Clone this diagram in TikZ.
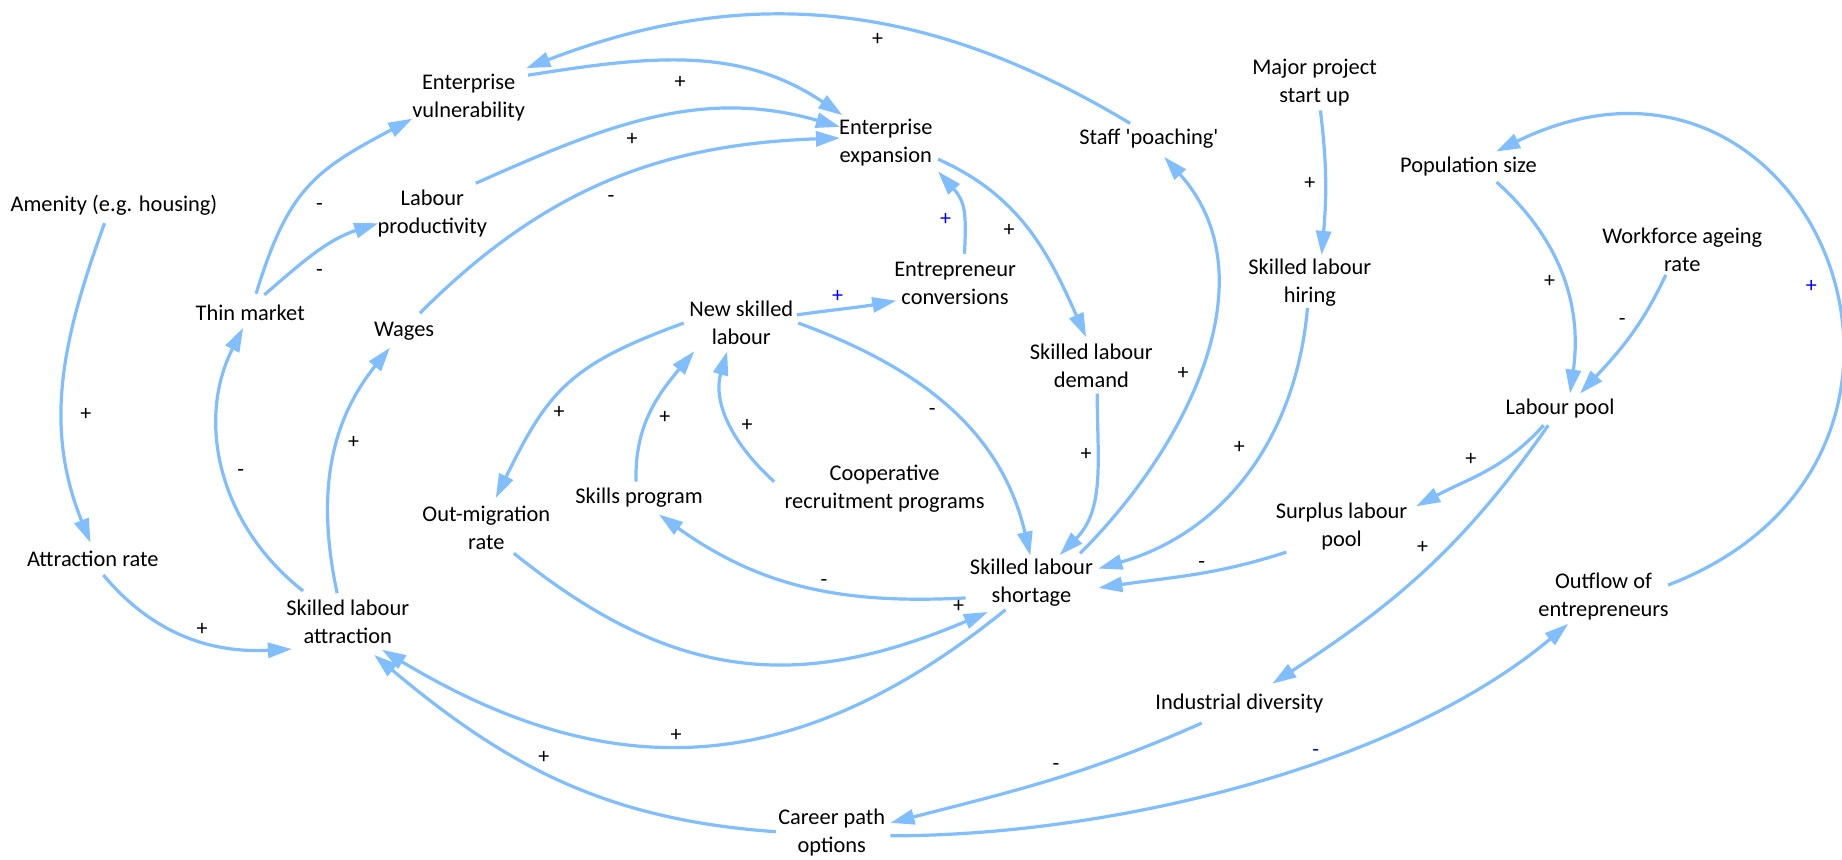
\documentclass[tikz,border=0pt]{standalone}
\usepackage{fontspec}
\setmainfont{Carlito}
\usetikzlibrary{arrows.meta}
\definecolor{linkblue}{RGB}{128,190,255}
\definecolor{signblue}{RGB}{0,0,255}
\begin{document}
\begin{tikzpicture}[x=0.5874pt,y=-0.5874pt,
  var/.style={font=\fontsize{11.2}{14}\selectfont, align=center, inner sep=0pt},
  pol/.style={font=\fontsize{11}{13}\selectfont, inner sep=0pt},
  polblue/.style={pol, text=signblue},
  link/.style={draw=linkblue, line width=1.6pt, -{Triangle[length=12pt,width=7.5pt]}},
]
\fill[white] (0,0) rectangle (1568,732);
\useasboundingbox (0,0) rectangle (1568,732);

% variables
\node[var] (ev) at (399,83) {Enterprise\\vulnerability};
\node[var] (am) at (97,175) {Amenity (e.g. housing)};
\node[var] (lp) at (368,182) {Labour\\productivity};
\node[var] (tm) at (213,266) {Thin market};
\node[var] (wa) at (344,282) {Wages};
\node[var] (ee) at (754,121) {Enterprise\\expansion};
\node[var] (sp) at (978,118) {Staff \textquotesingle poaching\textquotesingle};
\node[var] (ec) at (813,241) {Entrepreneur\\conversions};
\node[var] (ns) at (631,275) {New skilled\\labour};
\node[var] (sd) at (929,311) {Skilled labour\\demand};
\node[var] (mp) at (1119,70) {Major project\\start up};
\node[var] (ps) at (1250,142) {Population size};
\node[var] (wr) at (1432,213) {Workforce ageing\\rate};
\node[var] (sh) at (1115,241) {Skilled labour\\hiring};
\node[var] (lpool) at (1328,348) {Labour pool};
\node[var] (ar) at (79,476) {Attraction rate};
\node[var] (sa) at (296,529) {Skilled labour\\attraction};
\node[var] (om) at (414,449) {Out-migration\\rate};
\node[var] (sk) at (544,424) {Skills program};
\node[var] (co) at (753,416) {Cooperative\\recruitment programs};
\node[var] (ss) at (878,496) {Skilled labour\\shortage};
\node[var] (su) at (1142,448) {Surplus labour\\pool};
\node[var] (of) at (1365,508) {Outflow of\\entrepreneurs};
\node[var] (id) at (1055,599) {Industrial diversity};
\node[var] (cp) at (708,709) {Career path\\options};

% causal links
\draw[link] ([shift={(-16,-13)}]sp.center) to[out=149,in=21] ([shift={(49,-25)}]ev.center);
\draw[link] ([shift={(50.5,-19)}]ev.center) to[out=9,in=146] ([shift={(-37,-23)}]ee.center);
\draw[link] ([shift={(37,-26)}]lp.center) to[out=24,in=164] ([shift={(-39,-13)}]ee.center);
\draw[link] ([shift={(13.5,-15.5)}]wa.center) to[out=45,in=182] ([shift={(-39,-3.5)}]ee.center);
\draw[link] ([shift={(5,-16)}]tm.center) to[out=73,in=208,looseness=1.2] ([shift={(-48,18)}]ev.center);
\draw[link] ([shift={(12,-15)}]tm.center) to[out=41,in=198] ([shift={(-46,8)}]lp.center);
\draw[link] ([shift={(-8,15)}]am.center) to[out=250,in=112] ([shift={(-2,-14)}]ar.center);
\draw[link] ([shift={(9,13.5)}]ar.center) to[out=310,in=183] ([shift={(-47.5,23.5)}]sa.center);
\draw[link] ([shift={(-38,-26)}]sa.center) to[out=142,in=243] ([shift={(-6,13)}]tm.center);
\draw[link] ([shift={(-9,-24)}]sa.center) to[out=102,in=231] ([shift={(-12,14)}]wa.center);
\draw[link] ([shift={(44.5,14.5)}]ee.center) to[out=336,in=114] ([shift={(-4.5,-24)}]sd.center);
\draw[link] ([shift={(8,-25)}]ec.center) to[out=87,in=312,looseness=1.2] ([shift={(44.5,25)}]ee.center);
\draw[link] ([shift={(47.5,-7)}]ns.center) to[out=8,in=190] ([shift={(-50,15)}]ec.center);
\draw[link] ([shift={(5,24)}]sd.center) to[out=270,in=45] ([shift={(24,-23.5)}]ss.center);
\draw[link] ([shift={(41.5,-25)}]ss.center) to[out=45,in=312] ([shift={(13,15.5)}]sp.center);
\draw[link] ([shift={(5,24)}]mp.center) to[out=277,in=85] ([shift={(10,-24)}]sh.center);
\draw[link] ([shift={(-2,21)}]sh.center) to[out=265,in=16] ([shift={(57,-12)}]ss.center);
\draw[link] ([shift={(24,13)}]ps.center) to[out=318,in=82] ([shift={(8.5,-13)}]lpool.center);
\draw[link] ([shift={(-14,21)}]wr.center) to[out=245,in=47] ([shift={(17,-13)}]lpool.center);
\draw[link] ([shift={(55,-10)}]of.center) to[out=21,in=26,looseness=1.94] ([shift={(23.5,-13)}]ps.center);
\draw[link] ([shift={(-14,14)}]lpool.center) to[out=228,in=28] ([shift={(63.5,-17)}]su.center);
\draw[link] ([shift={(-10,14)}]lpool.center) to[out=235,in=33] ([shift={(28,-17)}]id.center);
\draw[link] ([shift={(-47,22)}]su.center) to[out=198,in=8.5] ([shift={(57,4.5)}]ss.center);
\draw[link] ([shift={(-56,13)}]ss.center) to[out=183,in=324.5] ([shift={(17,14)}]sk.center);
\draw[link] ([shift={(23.5,22)}]om.center) to[out=321,in=203,looseness=1.1] ([shift={(-37,25)}]ss.center);
\draw[link] ([shift={(-49,0)}]ns.center) to[out=200,in=64,looseness=1.2] ([shift={(8,-25)}]om.center);
\draw[link] ([shift={(-2.5,-14)}]sk.center) to[out=92,in=230] ([shift={(-40,24)}]ns.center);
\draw[link] ([shift={(-94,-6)}]co.center) to[out=138,in=254] ([shift={(-12,24)}]ns.center);
\draw[link] ([shift={(48.5,0)}]ns.center) to[out=340,in=103] ([shift={(-1,-23)}]ss.center);
\draw[link] ([shift={(-22,23)}]ss.center) to[out=219,in=329,looseness=1.1] ([shift={(29,24)}]sa.center);
\draw[link] ([shift={(-47.5,-1)}]cp.center) to[out=176,in=320] ([shift={(22.5,28.5)}]sa.center);
\draw[link] ([shift={(-32,16.5)}]id.center) to[out=204,in=14.5] ([shift={(50,-8.5)}]cp.center);
\draw[link] ([shift={(50,2.5)}]cp.center) to[out=0,in=220,looseness=0.8] ([shift={(-30,23)}]of.center);

% link polarities
\node[pol] (p1) at (747,34) {+};
\node[pol] (p2) at (579,70) {+};
\node[pol] (p3) at (538,119) {+};
\node[pol] (p4) at (520,169) {-};
\node[pol] (p5) at (272,176) {-};
\node[pol] (p6) at (272,232) {-};
\node[pol] (p7) at (73,353) {+};
\node[pol] (p8) at (172,536) {+};
\node[pol] (p9) at (205,403) {-};
\node[pol] (p10) at (301,377) {+};
\node[pol] (p11) at (859,196) {+};
\node[polblue] (p12) at (805,187) {+};
\node[polblue] (p13) at (713,252) {+};
\node[pol] (p14) at (924.5,387) {+};
\node[pol] (p15) at (1007,318) {+};
\node[pol] (p16) at (1115,156) {+};
\node[pol] (p17) at (1055,381) {+};
\node[pol] (p18) at (1319,240) {+};
\node[pol] (p19) at (1381,274) {-};
\node[polblue] (p20) at (1542,244) {+};
\node[pol] (p21) at (1252,391.5) {+};
\node[pol] (p22) at (1211,466) {+};
\node[pol] (p23) at (1023,481) {-};
\node[pol] (p24) at (701.5,496.5) {-};
\node[pol] (p25) at (816,516.5) {+};
\node[pol] (p26) at (476,351) {+};
\node[pol] (p27) at (566,355) {+};
\node[pol] (p28) at (636,362) {+};
\node[pol] (p29) at (793.5,351) {-};
\node[pol] (p30) at (575.5,626) {+};
\node[pol] (p31) at (463,645) {+};
\node[pol] (p32) at (899,653) {-};
\node[polblue] (p33) at (1120,641) {-};
\end{tikzpicture}
\end{document}
